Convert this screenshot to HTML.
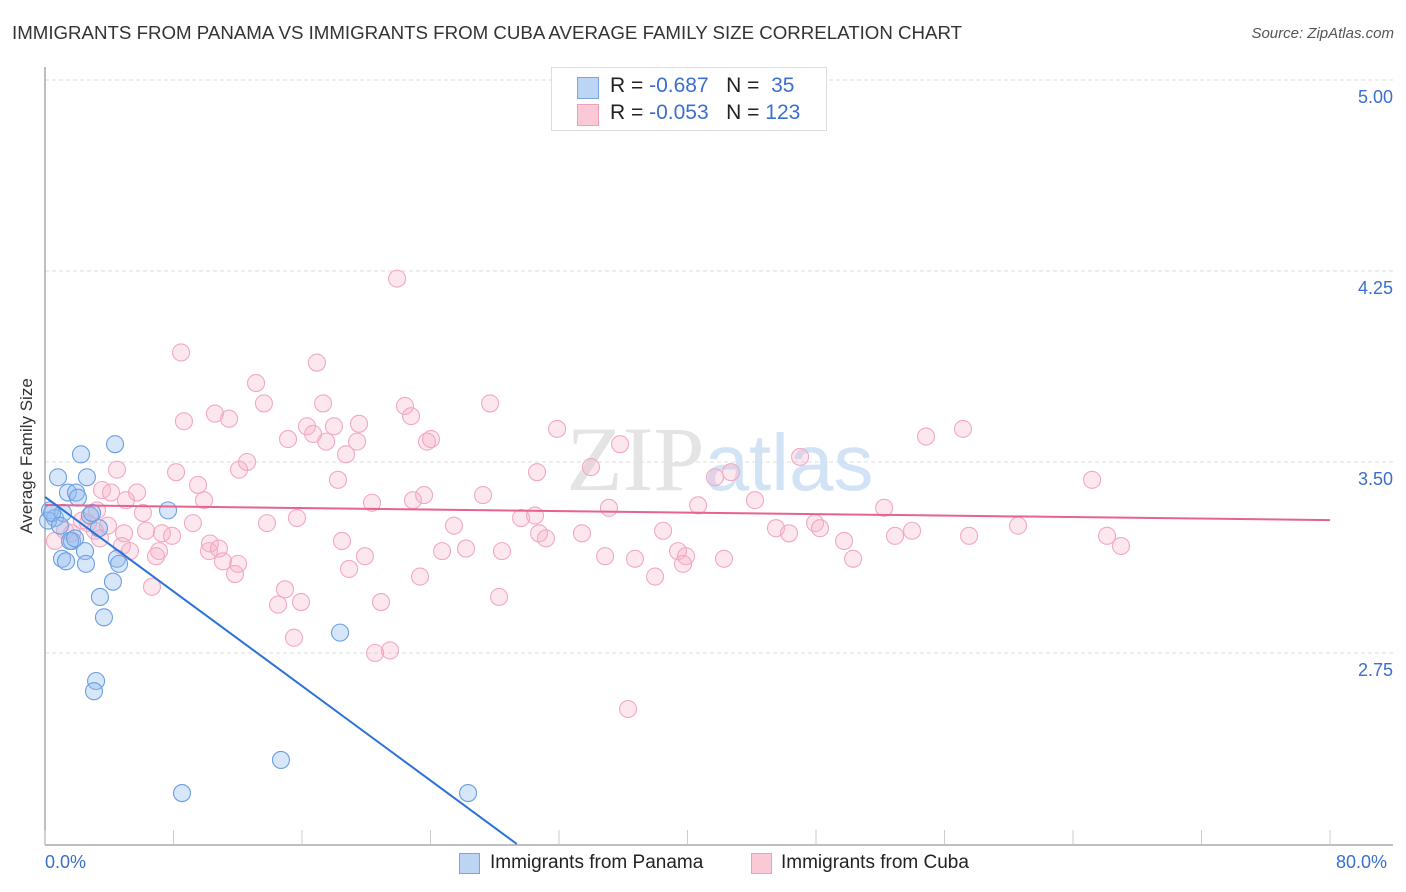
<!DOCTYPE html>
<html><head><meta charset="utf-8"><style>
body{margin:0;background:#fff;font-family:"Liberation Sans",sans-serif;}
#wrap{position:relative;width:1406px;height:892px;overflow:hidden;}
.t{position:absolute;white-space:nowrap;}
</style></head><body>
<div id="wrap">
<div class="t" style="left:12px;top:22px;font-size:18.7px;color:#333;">IMMIGRANTS FROM PANAMA VS IMMIGRANTS FROM CUBA AVERAGE FAMILY SIZE CORRELATION CHART</div>
<div class="t" style="right:12px;top:25px;font-size:15px;color:#555;font-style:italic;">Source: ZipAtlas.com</div>
<div class="t" style="left:27px;top:456px;font-size:17px;color:#333;transform:translate(-50%,-50%) rotate(-90deg);">Average Family Size</div>
<svg id="plot" width="1406" height="892" style="position:absolute;left:0;top:0;"></svg>
<div style="position:absolute;left:551px;top:67px;width:274px;height:62px;border:1px solid #ddd;background:#fff;">
 <div style="position:absolute;left:25px;top:9px;width:20px;height:20px;background:#bcd5f5;border:1px solid #7aa6e0;"></div>
 <div class="t" style="left:58px;top:6px;font-size:21px;color:#222;">R = <span style="color:#3a6fd0">-0.687</span>&nbsp;&nbsp;&nbsp;N = &nbsp;<span style="color:#3a6fd0">35</span></div>
 <div style="position:absolute;left:25px;top:36px;width:20px;height:20px;background:#fbc8d6;border:1px solid #eea0b8;"></div>
 <div class="t" style="left:58px;top:33px;font-size:21px;color:#222;">R = <span style="color:#3a6fd0">-0.053</span>&nbsp;&nbsp;&nbsp;N = <span style="color:#3a6fd0">123</span></div>
</div>
<div class="t" style="left:45px;top:852px;font-size:18px;color:#3a6fd0;">0.0%</div>
<div class="t" style="left:1336px;top:852px;font-size:18px;color:#3a6fd0;">80.0%</div>
<div style="position:absolute;left:459px;top:853px;width:19px;height:19px;background:#bcd5f5;border:1px solid #7aa6e0;"></div>
<div class="t" style="left:490px;top:852px;font-size:19px;color:#222;">Immigrants from Panama</div>
<div style="position:absolute;left:751px;top:853px;width:19px;height:19px;background:#fbc8d6;border:1px solid #eea0b8;"></div>
<div class="t" style="left:781px;top:852px;font-size:19px;color:#222;">Immigrants from Cuba</div>
</div>
<script>
const yTicks=[5.00,4.25,3.50,2.75];
const yTickLabels=["5.00","4.25","3.50","2.75"];
const xTicks=[0,8,16,24,32,40,48,56,64,72,80];
const panamaX=[0.31,0.62,0.81,1.12,1.43,1.06,1.31,1.68,1.93,2.05,2.24,2.49,2.55,2.61,2.80,2.93,3.36,3.42,3.67,4.23,4.36,4.48,4.61,3.18,3.05,7.66,8.53,14.69,18.37,26.34,0.19,0.44,1.56,1.87,0.93];
const panamaY=[3.31,3.28,3.44,3.30,3.38,3.12,3.11,3.19,3.38,3.36,3.53,3.15,3.10,3.44,3.29,3.30,3.24,2.97,2.89,3.03,3.57,3.12,3.10,2.64,2.60,3.31,2.20,2.33,2.83,2.20,3.27,3.30,3.19,3.20,3.25];
const cubaX=[21.92,8.47,16.93,13.14,13.63,17.31,22.41,27.71,10.58,11.46,8.65,22.79,16.31,17.99,19.55,16.69,15.13,24.03,23.78,31.88,19.43,17.50,18.74,35.80,47.01,54.85,57.15,4.48,8.16,12.08,12.58,18.24,33.99,30.63,41.71,42.71,65.19,3.55,4.11,5.73,9.53,9.90,5.04,20.36,22.91,23.60,27.27,3.24,6.10,9.21,13.82,15.69,29.64,30.51,35.11,40.66,44.20,52.24,47.94,48.25,60.58,2.30,2.68,3.11,3.92,4.92,6.29,7.28,7.91,10.27,4.79,5.29,7.10,6.91,10.21,10.83,12.02,11.08,18.49,19.92,18.93,25.46,26.21,24.72,28.45,30.76,31.19,33.43,38.48,45.51,46.32,49.75,52.92,53.98,57.53,66.12,66.99,11.83,23.35,34.87,36.73,39.41,39.91,39.72,42.27,50.31,37.98,6.66,14.94,14.51,15.94,20.92,28.27,15.50,20.55,21.48,36.30,1.25,1.68,0.62,3.42];
const cubaY=[4.22,3.93,3.89,3.81,3.73,3.73,3.72,3.73,3.69,3.67,3.66,3.68,3.64,3.64,3.65,3.61,3.59,3.59,3.58,3.63,3.58,3.58,3.53,3.57,3.52,3.60,3.63,3.47,3.46,3.47,3.50,3.43,3.48,3.46,3.44,3.46,3.43,3.39,3.38,3.38,3.41,3.35,3.35,3.34,3.35,3.37,3.37,3.31,3.30,3.26,3.26,3.28,3.28,3.29,3.32,3.33,3.35,3.32,3.26,3.24,3.25,3.27,3.26,3.23,3.25,3.22,3.23,3.22,3.21,3.18,3.17,3.15,3.15,3.13,3.15,3.16,3.10,3.11,3.19,3.13,3.08,3.25,3.16,3.15,3.15,3.22,3.20,3.22,3.23,3.24,3.22,3.19,3.21,3.23,3.21,3.21,3.17,3.06,3.05,3.13,3.12,3.15,3.13,3.10,3.12,3.12,3.05,3.01,3.00,2.94,2.95,2.95,2.97,2.81,2.75,2.76,2.53,3.23,3.22,3.19,3.20];
const panamaTrend=[3.363,-0.0464];
const cubaTrend=[3.331,-0.00074];
const NS="http://www.w3.org/2000/svg";
const svg=document.getElementById('plot');
const X0=45,X1=1330,Yb=844;
const xs=v=>X0+(v/80)*(X1-X0);
const ys=v=>Yb-(v-2)*254.67;
function mk(t,a){const e=document.createElementNS(NS,t);for(const k in a)e.setAttribute(k,a[k]);svg.appendChild(e);return e;}
yTicks.forEach((v,i)=>{
 const g=mk('line',{x1:X0,x2:1393,y1:ys(v),y2:ys(v),stroke:'#ddd','stroke-dasharray':'4,3'});
 
 
 const t=mk('text',{x:1393,y:ys(v)+23,'text-anchor':'end','font-size':18,fill:'#3a6fd0','font-family':'Liberation Sans, sans-serif'});
 t.textContent=yTickLabels[i];
 
 
});
const ax=mk('line',{x1:X0,x2:1393,y1:845,y2:845,stroke:'#aaa','stroke-width':1.5});


const ay=mk('line',{x1:X0,x2:X0,y1:67,y2:845,stroke:'#aaa','stroke-width':1.5});


xTicks.forEach(v=>{
 const l=mk('line',{x1:xs(v),x2:xs(v),y1:830,y2:845,stroke:'#ccc'});
 
 
});
const wm=mk('text',{x:720,y:490,'text-anchor':'middle','font-size':92,fill:'#e4e4e4','font-family':'Liberation Serif, serif'});
wm.innerHTML='ZIP<tspan font-family="Liberation Sans, sans-serif" font-size="80" fill="#d3e3f6">atlas</tspan>';


cubaX.forEach((x,i)=>{
 const c=mk('circle',{cx:xs(x),cy:ys(cubaY[i]),r:8.5,fill:'rgba(248,175,198,0.3)',stroke:'#f2a8c0','stroke-width':1.1});
 
 
});
panamaX.forEach((x,i)=>{
 const c=mk('circle',{cx:xs(x),cy:ys(panamaY[i]),r:8.5,fill:'rgba(150,190,240,0.38)',stroke:'#6b9fe2','stroke-width':1.1});
 
 
});
const pl=mk('line',{x1:xs(0),y1:ys(cubaTrend[0]),x2:xs(80),y2:ys(cubaTrend[0]+cubaTrend[1]*80),stroke:'#e8628e','stroke-width':2});


const xEnd=(2-panamaTrend[0])/panamaTrend[1];
const bl=mk('line',{x1:xs(0),y1:ys(panamaTrend[0]),x2:xs(xEnd),y2:ys(2),stroke:'#2a72d8','stroke-width':2});


</script>
</body></html>
